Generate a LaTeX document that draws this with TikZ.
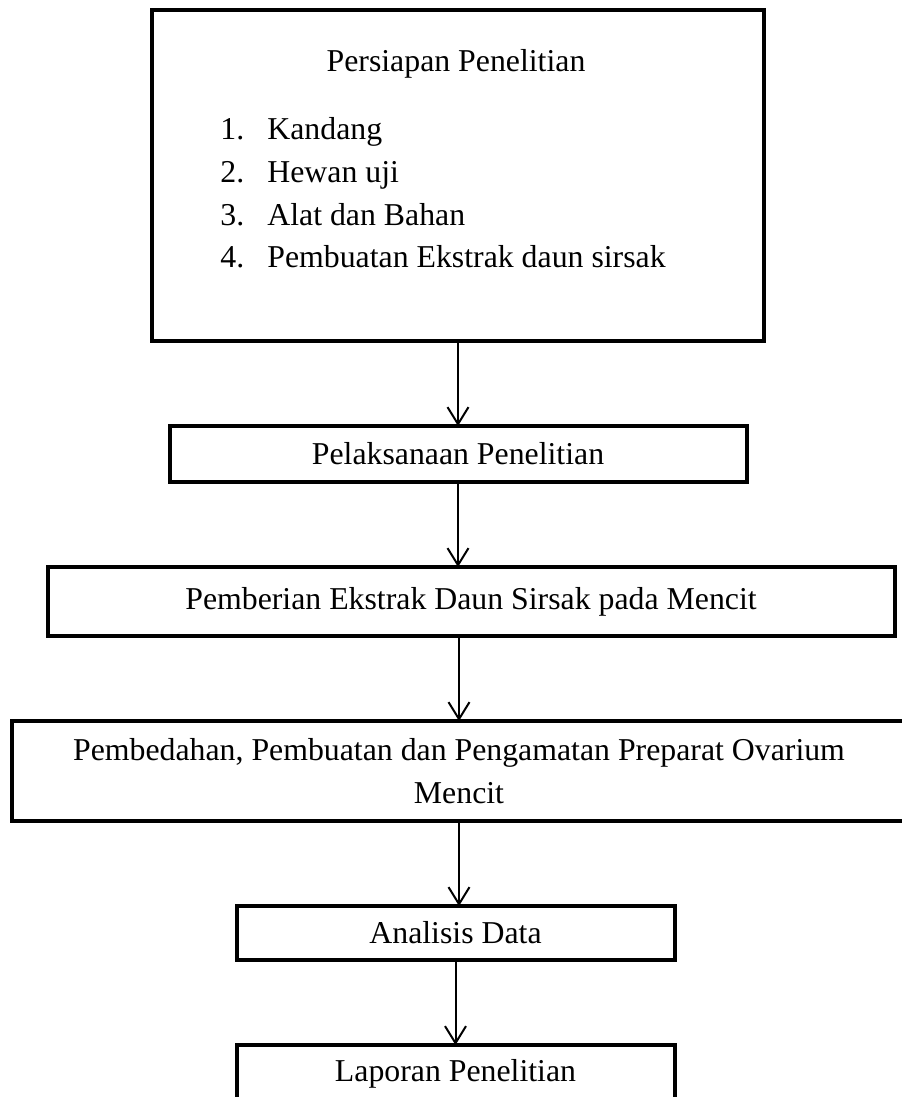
\documentclass[tikz,border=0pt]{standalone}
\usepackage{fontspec}
\setmainfont{Liberation Serif}
\usepackage{tikz}
\usetikzlibrary{arrows.meta, positioning, calc}
\newcommand{\bodyfont}{\fontsize{15.9}{21.33}\selectfont}

\begin{document}
\begin{tikzpicture}[
    x=0.5pt, y=-0.5pt,
    node distance=42.5pt,
    stepbox/.style={draw, line width=2pt, outer sep=0pt, inner sep=0pt, align=center, font=\bodyfont},
    arrow/.style={-{Straight Barb[length=8.5pt, width=10.5pt]}, line width=1pt}
]
    \useasboundingbox (0,0) rectangle (901,1097);

    % Nodes - preparation box
    \node[stepbox, minimum width=306pt, minimum height=165.5pt] (persiapan) at (458,175.5) {};
    \node[anchor=base, font=\bodyfont] (judul) at (456,72) {Persiapan Penelitian};
    \node[anchor=base west, font=\bodyfont, inner sep=0pt] (daftar) at (220,140)
        {\begin{tabular}[t]{@{}p{23.5pt}@{}l@{}}
            1. & Kandang\\
            2. & Hewan uji\\
            3. & Alat dan Bahan\\
            4. & Pembuatan Ekstrak daun sirsak
        \end{tabular}};

    % Nodes - following steps
    \node[stepbox, minimum width=288.5pt, minimum height=28pt, below=of persiapan] (pelaksanaan) {Pelaksanaan Penelitian};
    \node[stepbox, minimum width=423.5pt, minimum height=34.5pt, below=of pelaksanaan, xshift=6.5pt] (pemberian) {Pemberian Ekstrak Daun Sirsak pada Mencit};
    \node[stepbox, minimum width=447.5pt, minimum height=50pt, below=of pemberian, xshift=-6pt] (pembedahan) {Pembedahan, Pembuatan dan Pengamatan Preparat Ovarium\\Mencit};
    \node[stepbox, minimum width=219pt, minimum height=27pt, below=of pembedahan, xshift=-1.75pt] (analisis) {Analisis Data};
    \node[stepbox, minimum width=219pt, minimum height=29pt, below=of analisis] (laporan) {Laporan Penelitian};

    % Arrows
    \draw[arrow] (persiapan.south) -- (pelaksanaan.north);
    \draw[arrow] (pelaksanaan.south) -- (pelaksanaan.south |- pemberian.north);
    \draw[arrow] (pembedahan.north |- pemberian.south) -- (pembedahan.north);
    \draw[arrow] (pembedahan.south) -- (pembedahan.south |- analisis.north);
    \draw[arrow] (analisis.south) -- (laporan.north);
\end{tikzpicture}
\end{document}
